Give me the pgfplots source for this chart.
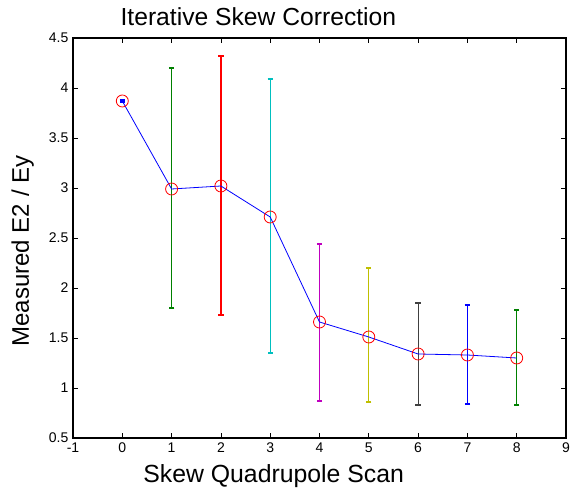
\documentclass[border=0pt]{standalone}
\usepackage{pgfplots}
\pgfplotsset{compat=1.18}
\usepackage{fontspec}
\setmainfont{Liberation Sans}

\definecolor{mblue}{rgb}{0,0,1}
\definecolor{mgreen}{rgb}{0,0.5,0}
\definecolor{mred}{rgb}{1,0,0}
\definecolor{mcyan}{rgb}{0,0.75,0.75}
\definecolor{mmagenta}{rgb}{0.75,0,0.75}
\definecolor{myellow}{rgb}{0.75,0.75,0}
\definecolor{mgray}{rgb}{0.25,0.25,0.25}

% one error bar, coloured
\newcommand{\ebar}[4]{%
  \addplot[#1, mark=none, forget plot, error bars/.cd, y dir=both, y explicit,
    error bar style={#1, line width=0.9pt},
    error mark options={#1, rotate=90, mark size=2pt, line width=0.9pt}]
    coordinates {(#2) += (0,#3) -= (0,#4)};}

\begin{document}
\begin{tikzpicture}
\begin{axis}[
  scale only axis,
  width=369.75pt, height=300pt,
  xmin=-1, xmax=9, ymin=0.5, ymax=4.5,
  xtick={-1,0,...,9},
  ytick={0.5,1,...,4.5},
  yticklabel style={/pgf/number format/.cd,fixed,precision=1},
  /pgf/number format/assume math mode=true,
  tick label style={font=\fontsize{10.5}{12}\selectfont},
  tick align=inside,
  major tick length=4pt,
  axis line style={line width=0.9pt},
  every tick/.style={black, line width=0.6pt},
  title style={font=\fontsize{18.5}{20}\selectfont, at={(0.376,1)}, anchor=base, yshift=3.5pt},
  title={Iterative Skew Correction},
  xlabel={Skew Quadrupole Scan},
  ylabel={Measured E2 / Ey},
  xlabel style={font=\fontsize{18.6}{20}\selectfont, at={(0.407,0)}, anchor=base, yshift=-33.5pt},
  ylabel style={font=\fontsize{18}{20}\selectfont, at={(0,0.4675)}, anchor=base, yshift=33pt},
]
% error bars, one colour per point
\ebar{mblue}{0,3.87}{0.01}{0.01}
\ebar{mgreen}{1,2.99}{1.21}{1.19}
\ebar{mred}{2,3.02}{1.30}{1.29}
\ebar{mcyan}{3,2.71}{1.38}{1.36}
\ebar{mmagenta}{4,1.66}{0.78}{0.79}
\ebar{myellow}{5,1.51}{0.69}{0.65}
\ebar{mgray}{6,1.34}{0.51}{0.51}
\ebar{mblue}{7,1.33}{0.50}{0.49}
\ebar{mgreen}{8,1.30}{0.48}{0.47}

% mean values
\addplot[mblue, line width=0.6pt, mark=none] coordinates {
  (0,3.87) (1,2.99) (2,3.02) (3,2.71) (4,1.66) (5,1.51) (6,1.34) (7,1.33) (8,1.30)
};
\addplot[only marks, mark=o, mark size=4.5pt, mred, mark options={line width=0.6pt}] coordinates {
  (0,3.87) (1,2.99) (2,3.02) (3,2.71) (4,1.66) (5,1.51) (6,1.34) (7,1.33) (8,1.30)
};
\end{axis}
\pgfresetboundingbox
\path[use as bounding box] ([shift={(-54.75pt,-37.5pt)}]current axis.south west)
  rectangle ([shift={(3pt,28.5pt)}]current axis.north east);
\end{tikzpicture}
\end{document}
